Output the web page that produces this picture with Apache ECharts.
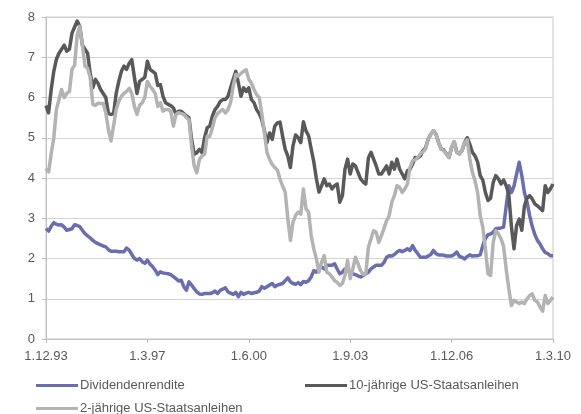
<!DOCTYPE html>
<html>
<head>
<meta charset="utf-8">
<script src="https://cdn.jsdelivr.net/npm/echarts@6/dist/echarts.min.js"></script>
<style>
html,body{margin:0;padding:0;background:#fff;}
#chart{width:581px;height:414px;}
</style>
</head>
<body>
<div id="chart"></div>
<script>
// Monthly observations, December 1993 .. March 2010 (196 months)
var startYear = 1993, startMonth = 12, monthCount = 196;
var tickLabels = ['1.12.93', '1.3.97', '1.6.00', '1.9.03', '1.12.06', '1.3.10'];
var seriesNames = ['Dividendenrendite', '10-jährige US-Staatsanleihen', '2-jährige US-Staatsanleihen'];

var dividendYield = [
  2.75,2.68,2.80,2.89,2.85,2.83,2.84,2.78,2.70,2.72,2.74,2.84,
  2.82,2.79,2.70,2.62,2.56,2.51,2.45,2.40,2.37,2.34,2.31,2.29,
  2.22,2.18,2.18,2.18,2.17,2.17,2.17,2.26,2.21,2.10,2.00,1.96,
  2.00,1.92,1.88,1.96,1.86,1.80,1.71,1.60,1.67,1.64,1.63,1.62,
  1.60,1.55,1.50,1.44,1.46,1.30,1.21,1.42,1.34,1.25,1.17,1.12,
  1.11,1.13,1.13,1.13,1.15,1.19,1.13,1.21,1.24,1.27,1.17,1.14,
  1.11,1.16,1.05,1.16,1.11,1.14,1.16,1.13,1.15,1.16,1.19,1.30,
  1.26,1.30,1.34,1.38,1.30,1.34,1.36,1.38,1.45,1.52,1.42,1.38,
  1.36,1.40,1.35,1.43,1.41,1.45,1.54,1.70,1.66,1.75,1.79,1.74,
  1.83,1.83,1.83,1.87,1.74,1.62,1.66,1.74,1.70,1.66,1.62,1.60,
  1.57,1.54,1.58,1.62,1.66,1.74,1.79,1.83,1.83,1.83,1.90,2.03,
  2.07,2.06,2.10,2.16,2.20,2.17,2.20,2.24,2.20,2.32,2.20,2.12,
  2.03,2.03,2.03,2.06,2.10,2.20,2.12,2.09,2.09,2.08,2.06,2.06,
  2.06,2.10,2.16,2.05,2.03,1.99,2.05,2.09,2.06,2.07,2.07,2.09,
  2.32,2.50,2.59,2.61,2.65,2.74,2.75,2.76,2.78,3.30,3.81,3.64,
  3.80,4.10,4.39,4.06,3.64,3.40,3.07,2.80,2.60,2.45,2.36,2.24,
  2.15,2.12,2.07,2.07
];

var tenYear = [
  5.80,5.62,6.20,6.65,6.95,7.10,7.20,7.30,7.15,7.20,7.60,7.75,
  7.90,7.77,7.30,7.20,7.10,6.60,6.24,6.45,6.35,6.20,6.10,6.00,
  5.60,5.58,5.60,6.10,6.40,6.65,6.78,6.70,6.85,6.94,6.50,6.10,
  6.40,6.45,6.50,6.90,6.70,6.65,6.60,6.30,6.32,6.03,5.87,5.83,
  5.80,5.74,5.58,5.66,5.66,5.60,5.54,5.50,4.96,4.59,4.63,4.71,
  4.63,5.00,5.25,5.29,5.54,5.70,5.78,5.90,5.95,5.95,6.03,6.24,
  6.45,6.65,6.36,6.03,6.24,6.15,6.24,5.95,5.87,5.70,5.60,5.45,
  5.17,4.88,5.12,4.96,5.29,5.37,5.39,5.04,4.71,4.55,4.26,4.80,
  5.07,5.00,4.88,5.40,5.17,5.05,4.72,4.40,3.98,3.65,3.81,3.98,
  3.81,3.85,3.73,3.81,3.85,3.40,3.56,4.22,4.47,4.10,4.35,4.30,
  4.14,3.98,3.90,3.85,4.50,4.64,4.47,4.30,4.10,4.10,4.20,4.30,
  4.10,4.39,4.22,4.47,4.22,4.10,3.98,4.18,4.22,4.35,4.51,4.50,
  4.55,4.68,4.75,4.97,5.09,5.17,5.09,4.88,4.72,4.70,4.60,4.51,
  4.76,4.90,4.64,4.60,4.68,4.88,5.00,4.84,4.64,4.55,4.40,4.06,
  3.95,3.64,3.44,3.50,3.89,4.06,3.98,3.85,3.95,3.81,3.60,2.80,
  2.24,2.82,2.98,2.70,3.30,3.50,3.56,3.48,3.36,3.31,3.25,3.19,
  3.81,3.64,3.73,3.85
];

var twoYear = [
  4.23,4.15,4.60,5.00,5.70,5.95,6.20,6.00,6.10,6.15,6.70,6.80,
  7.55,7.77,7.30,6.78,6.73,6.50,5.83,5.80,5.86,5.85,5.85,5.62,
  5.20,4.92,5.30,5.70,5.90,6.03,6.10,6.15,6.23,6.10,5.78,5.58,
  5.80,5.87,6.00,6.40,6.28,6.20,6.10,5.78,5.87,5.66,5.70,5.70,
  5.66,5.29,5.58,5.62,5.60,5.58,5.50,5.45,4.79,4.30,4.13,4.46,
  4.55,4.59,5.04,5.04,5.25,5.50,5.60,5.66,5.70,5.62,5.70,5.87,
  6.28,6.57,6.53,6.60,6.65,6.69,6.45,6.36,6.20,6.07,6.00,5.60,
  5.12,4.63,4.46,4.34,4.26,4.20,3.97,3.80,3.65,3.00,2.45,2.90,
  3.07,3.15,3.10,3.73,3.23,3.15,2.57,2.24,1.99,1.66,1.91,2.07,
  1.66,1.62,1.54,1.45,1.41,1.33,1.38,1.58,1.95,1.50,1.74,2.03,
  1.87,1.70,1.60,1.62,2.28,2.49,2.69,2.65,2.40,2.57,2.75,2.94,
  3.07,3.40,3.56,3.81,3.77,3.64,3.73,3.85,4.26,4.43,4.45,4.51,
  4.60,4.65,4.72,4.97,5.09,5.17,5.09,4.88,4.72,4.68,4.60,4.51,
  4.76,4.90,4.64,4.60,4.68,4.88,4.95,4.47,4.14,3.93,3.64,3.07,
  2.78,2.24,1.62,1.58,2.40,2.69,2.61,2.49,2.30,1.74,1.25,0.83,
  0.96,0.92,0.88,0.92,0.88,1.00,1.08,1.12,0.96,0.92,0.80,0.69,
  1.08,0.88,0.96,1.04
];

var categories = [];
(function () {
  var y = startYear, m = startMonth;
  for (var k = 0; k < monthCount; k++) {
    categories.push('1.' + m + '.' + String(y % 100).padStart(2, '0'));
    m++; if (m > 12) { m = 1; y++; }
  }
})();

var colors = ['#6B6EAE', '#595959', '#B3B3B3'];
var textColor = '#595959';
var font = 'Liberation Sans, Arial, sans-serif';

var chart = echarts.init(document.getElementById('chart'), null, {renderer: 'canvas'});

function legendFor(name, left, top) {
  return {
    data: [name], left: left, top: top, icon: 'rect',
    itemWidth: 42, itemHeight: 3, itemGap: 0, padding: 0,
    textStyle: {color: textColor, fontSize: 13, fontFamily: font, padding: [0, 0, 0, -3]}
  };
}

chart.setOption({
  animation: false,
  backgroundColor: '#ffffff',
  color: colors,
  grid: {left: 46, right: 28, top: 17, bottom: 75, show: true, borderColor: '#c8c8c8', borderWidth: 1},
  legend: [
    legendFor(seriesNames[0], 36, 379),
    legendFor(seriesNames[1], 305, 379),
    legendFor(seriesNames[2], 36, 402)
  ],
  xAxis: {
    type: 'category', data: categories, boundaryGap: false,
    axisLine: {lineStyle: {color: '#bfbfbf', width: 1}},
    axisTick: {show: true, interval: 38, length: 4, lineStyle: {color: '#bfbfbf'}},
    axisLabel: {interval: 38, color: textColor, fontSize: 13, fontFamily: font, margin: 11, showMaxLabel: true, showMinLabel: true},
    splitLine: {show: false}
  },
  yAxis: {
    type: 'value', min: 0, max: 8, interval: 1,
    axisLine: {show: true, lineStyle: {color: '#bfbfbf', width: 1}},
    axisTick: {show: true, length: 4, lineStyle: {color: '#bfbfbf'}},
    axisLabel: {color: textColor, fontSize: 13, fontFamily: font, margin: 11},
    splitLine: {lineStyle: {color: '#d4d4d4', width: 1}}
  },
  series: [
    {name: seriesNames[0], type: 'line', data: dividendYield, showSymbol: false, lineStyle: {width: 3.5, color: colors[0], join: 'round'}, z: 2},
    {name: seriesNames[1], type: 'line', data: tenYear, showSymbol: false, lineStyle: {width: 3.5, color: colors[1], join: 'round'}, z: 3},
    {name: seriesNames[2], type: 'line', data: twoYear, showSymbol: false, lineStyle: {width: 3.5, color: colors[2], join: 'round'}, z: 4}
  ]
});
</script>
</body>
</html>
